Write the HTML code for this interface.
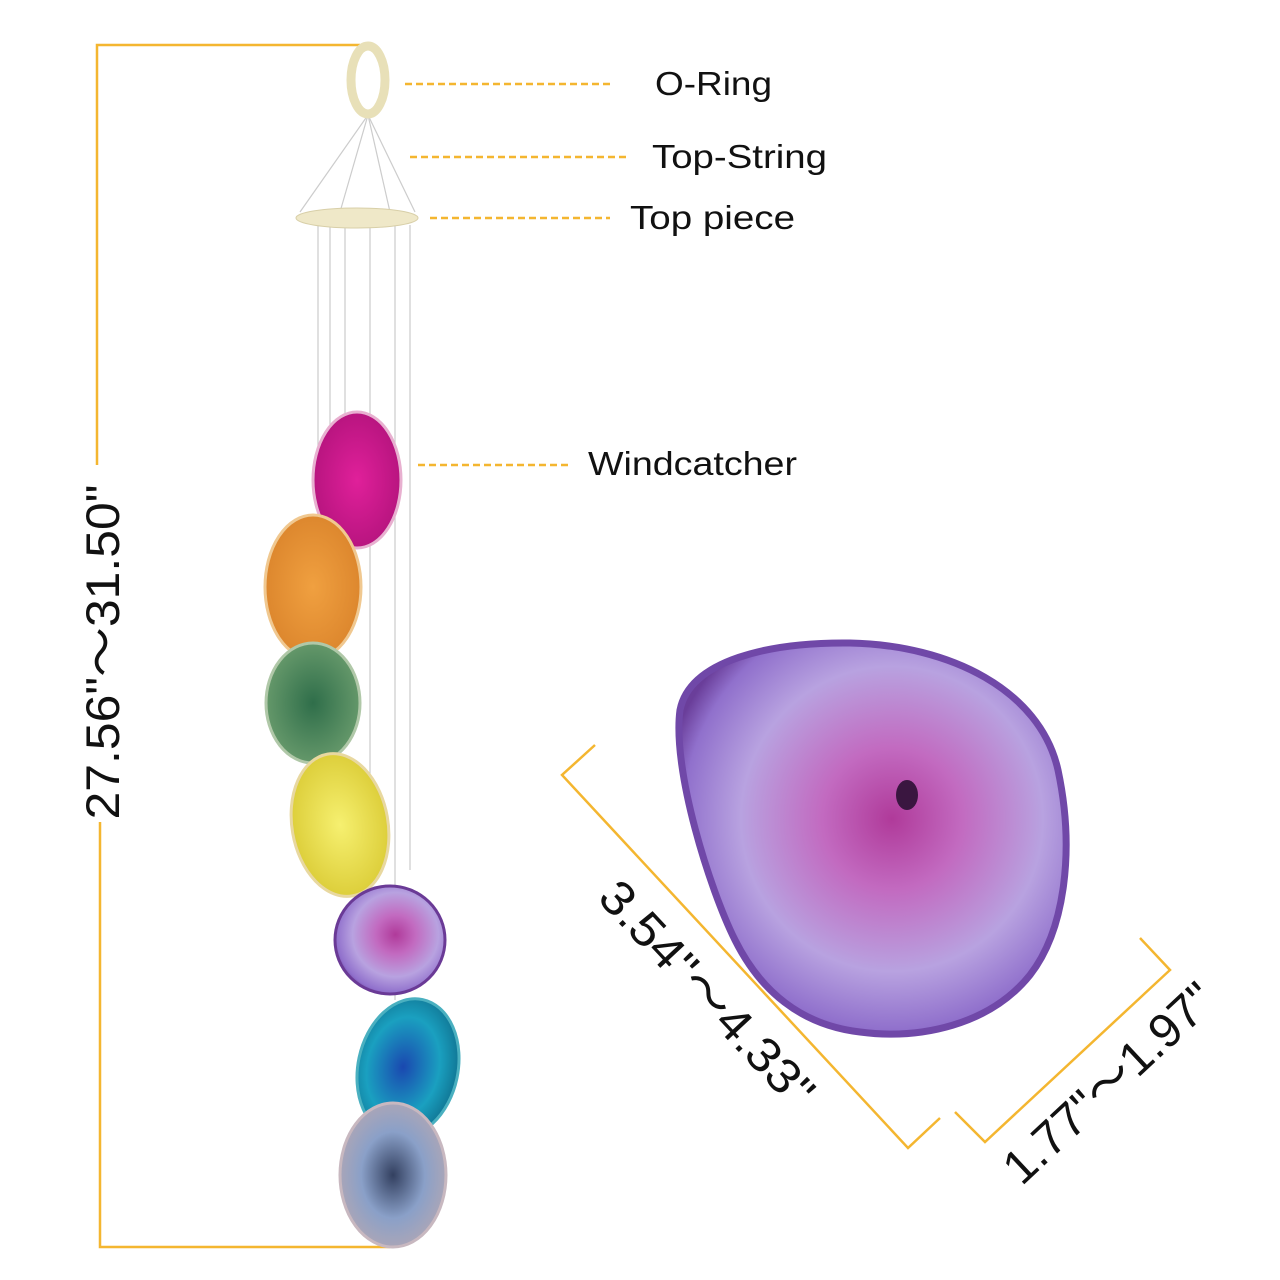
<!DOCTYPE html>
<html><head><meta charset="utf-8"><style>
html,body{margin:0;padding:0;background:#fff;}
svg{display:block}
text{font-family:"Liberation Sans",Arial,sans-serif;fill:#111}
</style></head><body>
<svg width="1280" height="1280" viewBox="0 0 1280 1280" xmlns="http://www.w3.org/2000/svg">
<defs>
<radialGradient id="pg" cx="0.55" cy="0.45" r="0.6">
<stop offset="0" stop-color="#b03a9a"/><stop offset="0.3" stop-color="#c26ac0"/><stop offset="0.65" stop-color="#b8a2e0"/><stop offset="0.9" stop-color="#9070cc"/><stop offset="1" stop-color="#6a3e9a"/></radialGradient>
<radialGradient id="mg" cx="0.5" cy="0.5" r="0.6"><stop offset="0" stop-color="#e0209a"/><stop offset="1" stop-color="#b0127a"/></radialGradient>
<radialGradient id="og" cx="0.5" cy="0.5" r="0.6"><stop offset="0" stop-color="#f0a040"/><stop offset="1" stop-color="#d9822a"/></radialGradient>
<radialGradient id="gg" cx="0.5" cy="0.5" r="0.6"><stop offset="0" stop-color="#2f6e4a"/><stop offset="1" stop-color="#6fa070"/></radialGradient>
<radialGradient id="yg" cx="0.5" cy="0.5" r="0.6"><stop offset="0" stop-color="#f6f070"/><stop offset="1" stop-color="#d8c830"/></radialGradient>
<radialGradient id="tg" cx="0.45" cy="0.5" r="0.6"><stop offset="0" stop-color="#1a48b0"/><stop offset="0.6" stop-color="#1aa0c0"/><stop offset="1" stop-color="#0e6c8a"/></radialGradient>
<radialGradient id="sg" cx="0.5" cy="0.5" r="0.6"><stop offset="0" stop-color="#334060"/><stop offset="0.5" stop-color="#8aa0c8"/><stop offset="1" stop-color="#b8a8b0"/></radialGradient>
</defs>
<g stroke="#f4b630" stroke-width="2.5" fill="none">
<polyline points="360,45 97,45 97,465"/>
<polyline points="100,822 100,1247 390,1247"/>
<polyline points="595,745 562,775 908,1148 940,1118"/>
<polyline points="955,1112 985,1142 1170,970 1140,938"/>
</g>
<g stroke="#f4b630" stroke-width="2.5" stroke-dasharray="7,4">
<line x1="405" y1="84" x2="610" y2="84"/>
<line x1="410" y1="157" x2="628" y2="157"/>
<line x1="430" y1="218" x2="610" y2="218"/>
<line x1="418" y1="465" x2="570" y2="465"/>
</g>
<text x="655" y="95" font-size="33" textLength="117" lengthAdjust="spacingAndGlyphs">O-Ring</text>
<text x="652" y="168" font-size="33" textLength="175" lengthAdjust="spacingAndGlyphs">Top-String</text>
<text x="630" y="229" font-size="33" textLength="165" lengthAdjust="spacingAndGlyphs">Top piece</text>
<text x="588" y="475" font-size="33" textLength="209" lengthAdjust="spacingAndGlyphs">Windcatcher</text>
<text transform="translate(119,652) rotate(-90)" text-anchor="middle" font-size="47" textLength="335" lengthAdjust="spacingAndGlyphs">27.56"～31.50"</text>
<text transform="translate(695,1005) rotate(47)" text-anchor="middle" font-size="48" textLength="290" lengthAdjust="spacingAndGlyphs">3.54"～4.33"</text>
<text transform="translate(1120,1095) rotate(-43)" text-anchor="middle" font-size="48">1.77"～1.97"</text>
<g stroke="#ccc" stroke-width="1.2">
<line x1="368" y1="115" x2="300" y2="212"/><line x1="368" y1="115" x2="415" y2="212"/>
<line x1="368" y1="115" x2="340" y2="212"/><line x1="368" y1="115" x2="390" y2="212"/>
<line x1="318" y1="225" x2="318" y2="520"/><line x1="345" y1="225" x2="345" y2="420"/>
<line x1="370" y1="225" x2="370" y2="890"/><line x1="395" y1="225" x2="395" y2="1000"/>
<line x1="410" y1="225" x2="410" y2="870"/><line x1="330" y1="225" x2="330" y2="650"/>
</g>
<ellipse cx="368" cy="80" rx="17" ry="34" fill="none" stroke="#e8e0b8" stroke-width="9"/>
<ellipse cx="357" cy="218" rx="61" ry="10" fill="#efe8c8" stroke="#d8cfa8"/>
<ellipse cx="357" cy="480" rx="44" ry="68" fill="url(#mg)" stroke="#e8b0d0" stroke-width="3"/>
<ellipse cx="313" cy="587" rx="48" ry="72" fill="url(#og)" stroke="#f0c890" stroke-width="3"/>
<ellipse cx="313" cy="703" rx="47" ry="60" fill="url(#gg)" stroke="#b0c8a8" stroke-width="3"/>
<ellipse cx="340" cy="825" rx="48" ry="72" fill="url(#yg)" stroke="#e8d8a0" stroke-width="3" transform="rotate(-10 340 825)"/>
<ellipse cx="390" cy="940" rx="55" ry="54" fill="url(#pg)" stroke="#6a3a96" stroke-width="3"/>
<ellipse cx="408" cy="1068" rx="50" ry="70" fill="url(#tg)" stroke="#4ab0c0" stroke-width="3" transform="rotate(12 408 1068)"/>
<ellipse cx="393" cy="1175" rx="53" ry="72" fill="url(#sg)" stroke="#c8b8c0" stroke-width="3"/>
<path d="M680,710 C690,660 770,642 850,643 C950,645 1040,690 1058,770 C1075,850 1065,930 1030,975 C990,1025 920,1040 860,1032 C800,1025 760,990 735,940 C710,890 672,770 680,710 Z" fill="url(#pg)" stroke="#7048a8" stroke-width="7"/>
<ellipse cx="907" cy="795" rx="11" ry="15" fill="#3a1640"/>
</svg>
</body></html>
